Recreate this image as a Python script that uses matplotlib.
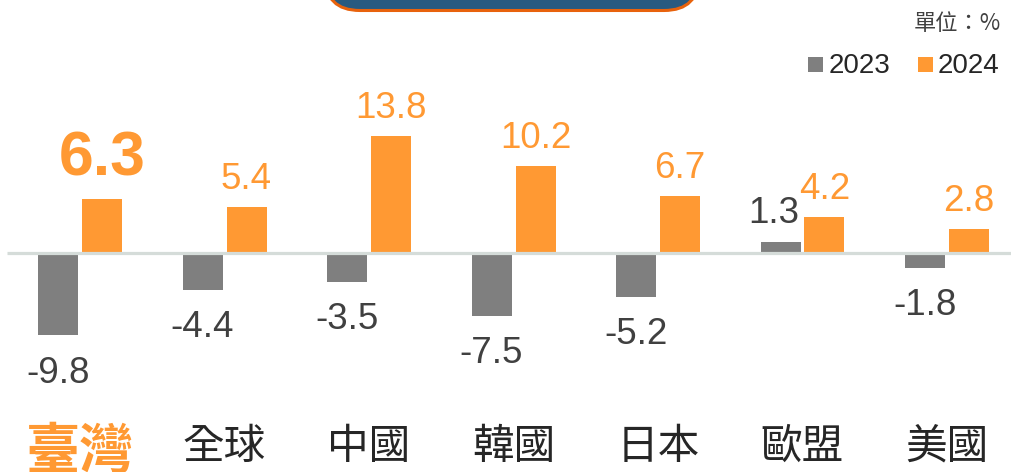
import numpy as np
import matplotlib.pyplot as plt
from matplotlib.patches import FancyBboxPatch, Rectangle

# Data: growth rate (%) by economy
regions = ['臺灣', '全球', '中國', '韓國', '日本', '歐盟', '美國']
vals_2023 = [-9.8, -4.4, -3.5, -7.5, -5.2, 1.3, -1.8]
vals_2024 = [6.3, 5.4, 13.8, 10.2, 6.7, 4.2, 2.8]
years = ['2023', '2024']

gray = '#7f7f7f'
orange = '#ff9933'
txt_dark = '#404040'
W, H = 1011, 472

plt.rcParams['font.family'] = ['Liberation Sans', 'Noto Sans CJK TC', 'DejaVu Sans']

fig = plt.figure(figsize=(W / 100, H / 100), dpi=100)
ax = fig.add_axes([0, 0, 1, 1])
ax.axis('off')

# pixel scale: group spacing 144.5 px, 8.45 px per %, zero line 252.6 px from top
step = 144.5
scale = 8.45
zero_px = 252.6
ax.set_xlim(-80 / step, (W - 80) / step)
ax.set_ylim(-(H - zero_px) / scale, zero_px / scale)

x = np.arange(len(regions))
bw = 40 / step
off = 22 / step
ax.bar(x - off, vals_2023, width=bw, color=gray, zorder=2)
ax.bar(x + off, vals_2024, width=bw, color=orange, zorder=2)

# zero line on top of the bars
ax.hlines(0, (7 - 80) / step, (W - 80) / step, color='#d5dcd9', lw=2.3, zorder=3)

# value labels
fs = 26.5
for i, (a, b) in enumerate(zip(vals_2023, vals_2024)):
    if a < 0:
        ax.annotate(f'{a:.1f}', (i - off, a), xytext=(0, -14.5), textcoords='offset points',
                    ha='center', va='top', fontsize=fs, color=txt_dark)
    else:
        ax.annotate(f'{a:.1f}', (i - off, a), xytext=(-5, 13.5), textcoords='offset points',
                    ha='center', va='baseline', fontsize=fs, color=txt_dark)
    if i == 0:
        ax.annotate(f'{b:.1f}', (i + off, b), xytext=(0, 17), textcoords='offset points',
                    ha='center', va='baseline', fontsize=45, fontweight='bold', color=orange)
    else:
        ax.annotate(f'{b:.1f}', (i + off, b), xytext=(0, 13), textcoords='offset points',
                    ha='center', va='baseline', fontsize=fs, color=orange)

# category labels
for i, name in enumerate(regions):
    if i == 0:
        ax.text(i, (zero_px - 452) / scale, name, ha='center', va='center', fontsize=39,
                fontweight='bold', color=orange, family=['Noto Sans CJK TC'])
    else:
        ax.text(i, (zero_px - 447) / scale, name, ha='center', va='center', fontsize=30,
                fontweight='medium', color='#262626', family=['Noto Sans CJK TC'])

# pixel axes for the title box and legend
pax = fig.add_axes([0, 0, 1, 1], zorder=5)
pax.set_xlim(0, W)
pax.set_ylim(H, 0)
pax.axis('off')

# title box cut off at the top
box = FancyBboxPatch((325, -80), 374, 90.5, boxstyle='round,pad=0,rounding_size=35',
                     facecolor='#285a80', edgecolor='#e8620c', lw=2.2)
pax.add_patch(box)

# unit and legend
pax.text(1001, 24, '單位：%', ha='right', va='center', fontsize=16, color=txt_dark,
         family=['Noto Sans CJK TC', 'Liberation Sans'])
for sx, tx, col, yr in [(808, 829, gray, years[0]), (918, 938, orange, years[1])]:
    pax.add_patch(Rectangle((sx, 57), 15, 15, facecolor=col, edgecolor='none'))
    pax.text(tx, 73, yr, ha='left', va='baseline', fontsize=20, color='#262626')

fig.savefig('out.png', dpi=100)
